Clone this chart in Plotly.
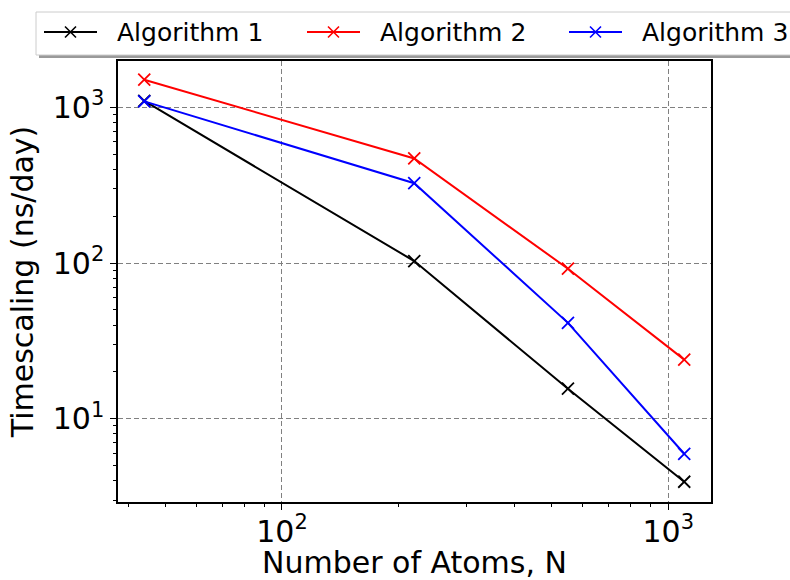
import plotly.graph_objects as go

atoms = [44, 220, 550, 1100]
alg1 = [1100, 103, 15.6, 3.94]
alg2 = [1506, 470, 92, 24]
alg3 = [1093, 326, 41.3, 5.96]
names = ["Algorithm 1", "Algorithm 2", "Algorithm 3"]
colors = ["#000000", "#ff0000", "#0000ff"]
xticks = [100, 1000]
xticklabels = ["10<sup>2</sup>", "10<sup>3</sup>"]
yticks = [10, 100, 1000]
yticklabels = ["10<sup>1</sup>", "10<sup>2</sup>", "10<sup>3</sup>"]
xminor = [40, 50, 60, 70, 80, 90, 200, 300, 400, 500, 600, 700, 800, 900]
yminor = [3, 4, 5, 6, 7, 8, 9, 20, 30, 40, 50, 60, 70, 80, 90, 200, 300, 400, 500, 600, 700, 800, 900]
xlabel = "Number of Atoms, N"
ylabel = "Timescaling (ns/day)"

FONT = "DejaVu Sans"
W, H = 790, 580
L, R, T, B = 118, 79, 61, 78
pw, ph = W - L - R, H - T - B


def px(x):
    return (x - L) / pw


def py(y):
    return (H - B - y) / ph


fig = go.Figure()
for name, vals, c in zip(names, [alg1, alg2, alg3], colors):
    fig.add_trace(go.Scatter(
        x=atoms, y=vals, name=name, mode="lines+markers",
        line=dict(color=c, width=2),
        marker=dict(symbol="x-thin", size=12, line=dict(color=c, width=1.8)),
        showlegend=False,
    ))

# legend frame (manual, matplotlib-like with shadow)
fig.add_shape(type="rect", xref="paper", yref="paper",
              x0=px(39), x1=px(805), y0=py(58), y1=py(15),
              fillcolor="#9a9a9a", line=dict(width=0), layer="above")
fig.add_shape(type="rect", xref="paper", yref="paper",
              x0=px(36), x1=px(802), y0=py(55), y1=py(12),
              fillcolor="white", line=dict(color="#cccccc", width=1), layer="above")
item_x0 = [44, 307, 569]
ly = 32
for name, c, x0 in zip(names, colors, item_x0):
    fig.add_shape(type="line", xref="paper", yref="paper",
                  x0=px(x0), x1=px(x0 + 53), y0=py(ly), y1=py(ly),
                  line=dict(color=c, width=2), layer="above")
    mx = x0 + 26.5
    d = 5.5
    fig.add_shape(type="path", xref="paper", yref="paper",
                  path=f"M{px(mx-d)},{py(ly-d)} L{px(mx+d)},{py(ly+d)} M{px(mx-d)},{py(ly+d)} L{px(mx+d)},{py(ly-d)}",
                  line=dict(color=c, width=1.6), layer="above")
    fig.add_annotation(xref="paper", yref="paper", x=px(x0 + 71), y=py(ly),
                       text=name, showarrow=False, xanchor="left", yanchor="middle",
                       font=dict(family=FONT, size=25, color="black"))

# x-axis title placed explicitly
fig.add_annotation(xref="paper", yref="paper", x=0.5, y=py(562), text=xlabel,
                   showarrow=False, xanchor="center", yanchor="middle",
                   font=dict(family=FONT, size=30, color="black"))

axis_common = dict(
    type="log", showline=True, linecolor="black", linewidth=1.5, mirror=True,
    ticks="outside", ticklen=6, tickwidth=1.2, tickcolor="black",
    showgrid=True, gridcolor="#808080", griddash="5px,3px", gridwidth=1,
    zeroline=False, automargin=False,
    tickfont=dict(family=FONT, size=30, color="black"),
)
fig.update_xaxes(**axis_common, range=[1.5755, 3.1107], tickvals=xticks, ticktext=xticklabels,
                 ticklabelstandoff=-4,
                 minor=dict(tickvals=xminor, ticks="outside", ticklen=3.5, tickwidth=1, tickcolor="black", showgrid=False))
fig.update_yaxes(**axis_common, range=[0.4655, 3.298], tickvals=yticks, ticktext=yticklabels,
                 minor=dict(tickvals=yminor, ticks="outside", ticklen=3.5, tickwidth=1, tickcolor="black", showgrid=False),
                 title=dict(text=ylabel, font=dict(family=FONT, size=30, color="black"), standoff=10))

fig.update_layout(
    width=W, height=H, margin=dict(l=L, r=R, t=T, b=B),
    plot_bgcolor="white", paper_bgcolor="white",
    font=dict(family=FONT, color="black"),
    showlegend=False,
)
fig.write_html("out.html")
